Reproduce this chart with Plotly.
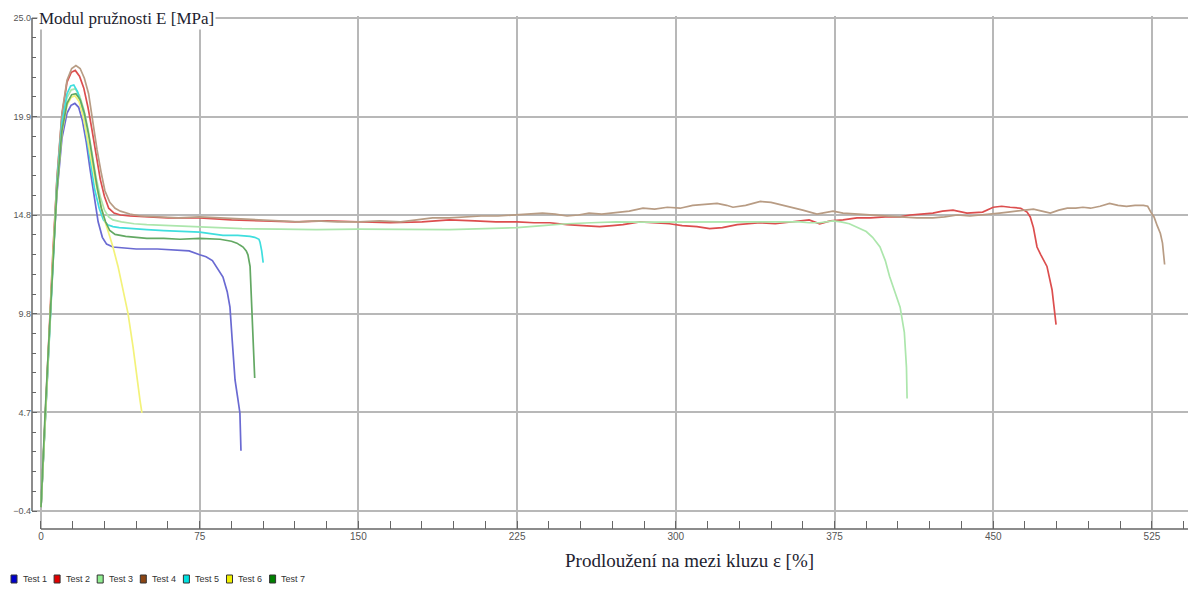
import plotly.graph_objects as go

# Tensile test curves: elongation at yield [%] vs. modulus E [MPa]
test_names = ["Test 1", "Test 2", "Test 3", "Test 4", "Test 5", "Test 6", "Test 7"]
line_colors = ["#6a6ad2", "#dc4e4e", "#ace6ac", "#b89c84", "#3fdede", "#f3f27a", "#63a863"]
legend_colors = ["#0000cc", "#e00000", "#90ee90", "#8b4513", "#00e0e0", "#f0f000", "#008000"]

t1_x = [0, 0.9, 1.9, 3.1, 4.3, 5.7, 7.5, 9.9, 12.3, 14.2, 16, 17.8, 19.6, 21.4, 23.2, 25, 27, 29, 31, 34,
        38.8, 45, 55, 65.7, 70, 75, 78, 81, 83.5, 86, 88, 89.3, 90.3, 91, 91.7, 93, 94, 94.5]
t1_y = [-0.2, 1.8, 4.6, 7.2, 9.7, 12.7, 15.9, 18.8, 20.1, 20.5, 20.6, 20.4, 19.7, 18.6, 17.2, 15.8, 14.5, 13.7, 13.35, 13.2,
        13.15, 13.1, 13.1, 13.05, 13.0, 12.8, 12.7, 12.5, 12.1, 11.65, 10.9, 10.1, 8.5, 7.2, 6.35, 5.4, 4.65, 2.7]

t2_x = [0, 0.9, 1.9, 3.1, 4.3, 5.7, 7.5, 9.9, 12.3, 14.3, 16.2, 18.2, 20.2, 22.2, 24, 26, 28, 30, 32, 34.5,
        37.5, 42, 50, 60, 75, 90, 105, 120, 135, 150, 165, 180, 193, 205, 215, 225, 233, 240.5, 248.6, 256,
        264, 270, 275, 283, 291, 297, 303, 310, 316, 322, 329, 335, 340, 347, 355, 363, 368, 373, 379, 385.6,
        392, 399, 406, 410.7, 416, 421.5, 426, 431, 437.6, 445, 450, 454, 458, 463, 466, 467.5, 469, 470.7,
        472.5, 475.4, 477.8, 479, 479.7]
t2_y = [-0.2, 1.9, 4.7, 7.3, 9.9, 13.1, 16.6, 20.0, 21.7, 22.2, 22.3, 22.0, 21.4, 20.4, 19.3, 17.9, 16.7, 15.8, 15.2, 14.95,
        14.85, 14.8, 14.75, 14.7, 14.7, 14.6, 14.55, 14.5, 14.55, 14.5, 14.45, 14.5, 14.6, 14.55, 14.5, 14.5, 14.45, 14.45, 14.35, 14.3,
        14.25, 14.3, 14.35, 14.5, 14.45, 14.4, 14.3, 14.25, 14.15, 14.2, 14.35, 14.4, 14.45, 14.4, 14.5, 14.6, 14.4, 14.55, 14.6, 14.7,
        14.7, 14.75, 14.75, 14.85, 14.9, 14.95, 15.05, 15.1, 14.95, 15.0, 15.25, 15.3, 15.25, 15.2, 15.0, 14.75, 14.2, 13.2,
        12.8, 12.2, 11.0, 10.0, 9.2]

t3_x = [0, 0.9, 1.9, 3.1, 4.3, 5.7, 7.5, 9.9, 12.3, 14.3, 16.2, 18.2, 20.2, 22.2, 24, 26, 28, 30, 32, 34,
        38, 44, 50, 60, 70, 81, 95, 113, 130, 150, 170, 193, 210, 225, 237, 248.6, 260, 272, 285, 303,
        320, 335, 350, 358.7, 363, 368, 374.3, 378, 382, 386, 390, 393, 396.5, 399, 401, 403.5, 406, 408, 409, 409.3]
t3_y = [-0.2, 1.8, 4.6, 7.2, 9.8, 12.9, 16.3, 19.4, 20.9, 21.3, 21.35, 21.0, 20.3, 19.3, 18.1, 16.8, 15.8, 15.1, 14.75, 14.6,
        14.5, 14.4, 14.35, 14.3, 14.25, 14.2, 14.15, 14.12, 14.1, 14.12, 14.1, 14.1, 14.15, 14.2, 14.3, 14.4, 14.45, 14.5, 14.48, 14.5,
        14.52, 14.5, 14.5, 14.5, 14.45, 14.45, 14.55, 14.5, 14.4, 14.2, 14.0, 13.7, 13.2, 12.5, 11.7, 10.9, 10.1, 8.8, 7.0, 5.4]

t4_x = [0, 0.9, 1.9, 3.1, 4.3, 5.7, 7.5, 9.9, 12.3, 14.5, 16.5, 18.5, 20.5, 22.5, 24.1, 26.5, 28.5, 30.2, 32.5, 35,
        37.5, 42, 47, 55, 65, 75, 85, 95, 105, 115, 122, 130, 140, 150, 160, 170, 178, 185, 193, 200,
        208, 216, 225, 231, 237, 243, 248.6, 254, 259, 265, 272, 278, 284.5, 290, 296, 302, 308, 314, 319.5, 324,
        327, 333, 340, 345, 350.7, 355, 360, 366.7, 370, 374.3, 379, 385, 390, 398, 406, 414, 421.5, 427, 433, 439,
        445, 453, 457, 461, 465, 469, 473, 477, 481, 485, 489, 492.4, 496, 500.5, 505, 509, 513, 517, 521, 523,
        524.5, 526, 527.5, 529, 530, 531]
t4_y = [-0.2, 1.8, 4.5, 7.2, 9.8, 13.1, 16.7, 20.1, 21.8, 22.4, 22.55, 22.4, 21.9, 21.1, 19.9, 18.2, 17.0, 16.1, 15.5, 15.2,
        15.05, 14.9, 14.8, 14.75, 14.7, 14.75, 14.7, 14.65, 14.6, 14.55, 14.5, 14.55, 14.5, 14.5, 14.55, 14.5, 14.6, 14.7, 14.7, 14.75,
        14.8, 14.8, 14.85, 14.9, 14.95, 14.9, 14.8, 14.85, 14.95, 14.9, 15.0, 15.05, 15.2, 15.15, 15.25, 15.2, 15.35, 15.4, 15.45, 15.35,
        15.25, 15.35, 15.55, 15.5, 15.35, 15.25, 15.1, 14.9, 14.95, 15.05, 14.95, 14.9, 14.85, 14.8, 14.75, 14.7, 14.7, 14.75, 14.85, 14.8,
        14.85, 14.95, 15.0, 15.05, 15.1, 15.15, 15.05, 14.95, 15.1, 15.2, 15.2, 15.25, 15.2, 15.3, 15.45, 15.35, 15.3, 15.35, 15.35, 15.3,
        15.0, 14.75, 14.3, 13.9, 13.4, 12.3]

t5_x = [0, 0.9, 1.9, 3.1, 4.3, 5.7, 7.5, 9.9, 12.3, 14, 15.5, 17.3, 19.3, 21.3, 23.3, 25.3, 27.5, 29.5, 31.5, 34,
        37, 42, 50, 58, 65.7, 75, 86, 93, 98.8, 101, 103, 103.5, 104.3, 105]
t5_y = [-0.2, 1.8, 4.7, 7.3, 9.9, 13.0, 16.4, 19.6, 21.1, 21.5, 21.55, 21.2, 20.4, 19.1, 17.6, 16.2, 15.2, 14.6, 14.35, 14.25,
        14.2, 14.15, 14.1, 14.05, 14.0, 13.97, 13.8, 13.8, 13.75, 13.7, 13.6, 13.45, 13.0, 12.4]

t6_x = [0, 0.9, 1.9, 3.1, 4.3, 5.7, 7.5, 9.9, 12.3, 14.2, 16, 18, 20, 22, 24, 26, 28, 30, 32.6, 34,
        36.4, 38.8, 41.1, 43.5, 45.4, 46.8, 47.7]
t6_y = [-0.2, 1.8, 4.6, 7.2, 9.8, 12.8, 16.1, 19.1, 20.5, 20.9, 21.0, 20.7, 19.9, 18.7, 17.4, 16.4, 15.5, 14.6, 13.7, 13.2,
        12.2, 11.0, 9.8, 8.05, 6.35, 5.3, 4.65]

t7_x = [0, 0.9, 1.9, 3.1, 4.3, 5.7, 7.5, 9.9, 12.3, 14.5, 16.5, 18.5, 20.5, 22.5, 24.5, 26.5, 28.5, 30.5, 32.5, 35,
        40, 50, 58, 65.7, 75, 84.6, 90, 92.6, 94, 95.5, 97, 97.8, 98.8, 99.2, 99.7, 100.2, 100.6, 101]
t7_y = [-0.2, 1.7, 4.5, 7.1, 9.7, 12.8, 16.1, 19.2, 20.6, 21.05, 21.1, 20.8, 20.1, 19.0, 17.6, 16.3, 15.2, 14.5, 14.05, 13.85,
        13.75, 13.65, 13.65, 13.6, 13.65, 13.6, 13.5, 13.4, 13.3, 13.2, 13.0, 12.8, 12.2, 11.0, 9.8, 8.05, 7.2, 6.45]

series_x = [t1_x, t2_x, t3_x, t4_x, t5_x, t6_x, t7_x]
series_y = [t1_y, t2_y, t3_y, t4_y, t5_y, t6_y, t7_y]

# Axis settings
x_range = [-4.25, 542.05]
y_range = [-1.327, 25.103]
y_tick0, y_dtick = -0.4, 5.08
y_top = 25.0

y_title = "Modul pružnosti E [MPa]"
x_title = "Prodloužení na mezi kluzu ε [%]"

W, H = 1190, 590
M_L, M_R, M_T, M_B = 32, 2, 16, 61
plot_w = W - M_L - M_R
plot_h = H - M_T - M_B


def px_to_paper(px, py):
    return (px - M_L) / plot_w, (H - M_B - py) / plot_h


fig = go.Figure()
for name, xs, ys, col in zip(test_names, series_x, series_y, line_colors):
    fig.add_trace(go.Scatter(x=xs, y=ys, mode="lines", name=name,
                             line=dict(color=col, width=1.7), showlegend=False))

grid_col = "#b8b8b8"
axis_col = "#666666"
tick_font = dict(family="Liberation Sans Narrow, Liberation Sans, Arial", color="#555555")

fig.update_xaxes(range=x_range, tickmode="linear", tick0=0, dtick=75,
                 showgrid=True, gridcolor=grid_col, gridwidth=2, zeroline=False,
                 showline=False, ticks="inside", ticklen=8, tickwidth=1.2, tickcolor=axis_col,
                 tickfont=dict(size=10, **tick_font),
                 minor=dict(tickmode="linear", tick0=0, dtick=15, ticks="inside", ticklen=8,
                            tickwidth=1.2, tickcolor=axis_col, showgrid=False))
fig.update_yaxes(range=y_range, tickmode="linear", tick0=y_tick0, dtick=y_dtick, tickformat=".1f",
                 showgrid=True, gridcolor=grid_col, gridwidth=2, zeroline=False,
                 showline=False, ticks="inside", ticklen=5, tickwidth=1.2, tickcolor=axis_col,
                 tickfont=dict(size=9, **tick_font),
                 minor=dict(tickmode="linear", tick0=y_tick0, dtick=y_dtick / 5, ticks="inside", ticklen=4,
                            tickwidth=1.2, tickcolor=axis_col, showgrid=False))

shapes = [
    # vertical value axis ending at the lowest tick
    dict(type="line", xref="paper", yref="y", x0=0, x1=0, y0=y_tick0, y1=y_top,
         line=dict(color=axis_col, width=1.5)),
    # horizontal axis starting at zero elongation
    dict(type="line", xref="x", yref="paper", x0=0, x1=x_range[1], y0=0, y1=0,
         line=dict(color=axis_col, width=1.5)),
]

annotations = [
    dict(text=y_title, xref="paper", yref="y", x=px_to_paper(37, 0)[0], y=y_top,
         xanchor="left", yanchor="middle", showarrow=False, bgcolor="white",
         font=dict(family="Liberation Serif, Times New Roman, serif", size=17, color="#1e1e30")),
    dict(text=x_title, xref="paper", yref="paper", x=px_to_paper(689, 560)[0], y=px_to_paper(689, 560)[1],
         xanchor="center", yanchor="middle", showarrow=False,
         font=dict(family="Liberation Serif, Times New Roman, serif", size=19, color="#1e1e30")),
]

# Legend row: coloured squares with series names
leg_py = 579
for i, (name, col) in enumerate(zip(test_names, legend_colors)):
    left_px = 11 + 43.1 * i
    x0, y0 = px_to_paper(left_px, leg_py + 4)
    x1, y1 = px_to_paper(left_px + 6, leg_py - 4)
    shapes.append(dict(type="rect", xref="paper", yref="paper", x0=x0, x1=x1, y0=y0, y1=y1,
                       fillcolor=col, line=dict(color="#333333", width=1)))
    tx, ty = px_to_paper(left_px + 9.5, leg_py)
    annotations.append(dict(text=name, xref="paper", yref="paper", x=tx, y=ty,
                            xanchor="left", yanchor="middle", showarrow=False,
                            font=dict(family="Liberation Sans Narrow, Liberation Sans, Arial",
                                      size=9, color="#333333")))

fig.update_layout(width=W, height=H, margin=dict(l=M_L, r=M_R, t=M_T, b=M_B),
                  plot_bgcolor="white", paper_bgcolor="white", showlegend=False,
                  shapes=shapes, annotations=annotations)

fig.write_html("out.html")
